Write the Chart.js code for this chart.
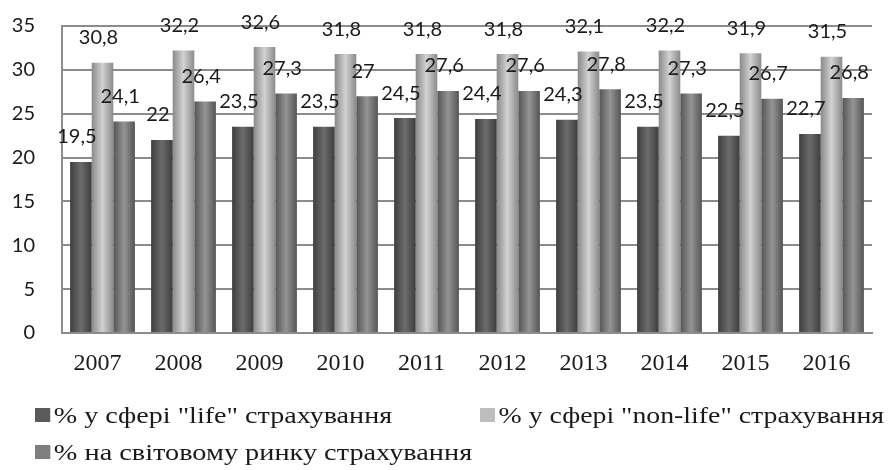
<!DOCTYPE html>
<html>
<head>
<meta charset="utf-8">
<script src="https://cdn.jsdelivr.net/npm/chart.js@4/dist/chart.umd.min.js"></script>
<style>
  html, body { margin: 0; padding: 0; background: #ffffff; }
  #wrap { position: relative; width: 891px; height: 470px; }
  canvas { position: absolute; left: 0; top: 0; }
  .leg { position: absolute; font-family: "Times New Roman", "Liberation Serif", serif; font-size: 24px; color: #1a1a1a; white-space: nowrap; line-height: 26px; transform-origin: 0 50%; }
  .leg i { display: inline-block; width: 13px; height: 14px; margin-right: 3px; vertical-align: 1px; }
</style>
</head>
<body>
<div id="wrap">
  <canvas id="c" width="891" height="470"></canvas>
  <div id="legend"></div>
</div>
<script>
// ---- data ----
const categories = ["2007", "2008", "2009", "2010", "2011", "2012", "2013", "2014", "2015", "2016"];
const lifeValues    = [19.5, 22, 23.5, 23.5, 24.5, 24.4, 24.3, 23.5, 22.5, 22.7];
const nonLifeValues = [30.8, 32.2, 32.6, 31.8, 31.8, 31.8, 32.1, 32.2, 31.9, 31.5];
const worldValues   = [24.1, 26.4, 27.3, 27, 27.6, 27.6, 27.8, 27.3, 26.7, 26.8];
const seriesNames = [
  '% у сфері "life" страхування',
  '% у сфері "non-life" страхування',
  '% на світовому ринку страхування'
];
const yTicks = [0, 5, 10, 15, 20, 25, 30, 35];

// ---- styles ----
const CAT_PCT = 0.8;
const shades = [
  ['#3e3e3e', '#6c6c6c', '#3e3e3e'],
  ['#8a8a8a', '#d2d2d2', '#8a8a8a'],
  ['#555555', '#949494', '#555555']
];
const legendSwatch = ['#5a5a5a', '#bdbdbd', '#7e7e7e'];

function barFill(c) {
  const st = shades[c.datasetIndex];
  if (c.type !== 'data') return st[1];
  const chart = c.chart;
  const xs = chart.scales.x;
  if (!xs || !xs.width) return st[1];
  const center = xs.getPixelForValue(c.dataIndex);
  const cw = (xs.right - xs.left) / categories.length;
  const gw = cw * CAT_PCT;
  const bw = gw / 3;
  const left = center - gw / 2 + c.datasetIndex * bw;
  const g = chart.ctx.createLinearGradient(left, 0, left + bw, 0);
  g.addColorStop(0, st[0]);
  g.addColorStop(0.5, st[1]);
  g.addColorStop(1, st[2]);
  return g;
}

const valueLabels = {
  id: 'valueLabels',
  afterDatasetsDraw(chart) {
    const ctx = chart.ctx;
    ctx.save();
    ctx.font = '20px Lato, "Open Sans", sans-serif';
    ctx.fillStyle = '#1a1a1a';
    ctx.textAlign = 'center';
    ctx.textBaseline = 'middle';
    chart.data.datasets.forEach((ds, di) => {
      const meta = chart.getDatasetMeta(di);
      meta.data.forEach((el, i) => {
        const txt = String(ds.data[i]).replace('.', ',');
        ctx.fillText(txt, el.x - 4, el.y - 25);
      });
    });
    ctx.restore();
  }
};

const gridColor = '#8c8c8c';

new Chart(document.getElementById('c'), {
  type: 'bar',
  data: {
    labels: categories,
    datasets: [
      { label: seriesNames[0], data: lifeValues, backgroundColor: barFill },
      { label: seriesNames[1], data: nonLifeValues, backgroundColor: barFill },
      { label: seriesNames[2], data: worldValues, backgroundColor: barFill }
    ]
  },
  options: {
    responsive: false,
    animation: false,
    devicePixelRatio: 1,
    datasets: { bar: { categoryPercentage: CAT_PCT, barPercentage: 1.0, borderWidth: 0 } },
    layout: { padding: { top: 26, right: 19, bottom: 77, left: 0 } },
    plugins: {
      legend: { display: false },
      tooltip: { enabled: false }
    },
    scales: {
      x: {
        grid: { display: false, drawTicks: false },
        border: { display: true, color: gridColor, width: 2 },
        ticks: {
          color: '#1a1a1a',
          font: { family: '"Liberation Serif", "Times New Roman", serif', size: 24 },
          padding: 16,
          labelOffset: -5,
          maxRotation: 0
        },
        afterFit(s) { s.height = 60; }
      },
      y: {
        min: 0,
        max: 35,
        afterBuildTicks(s) { s.ticks = yTicks.map(v => ({ value: v })); },
        grid: { color: gridColor, lineWidth: 2, drawTicks: true, tickLength: 24, tickColor: 'rgba(0,0,0,0)' },
        border: { display: true, color: gridColor, width: 2 },
        ticks: {
          color: '#1a1a1a',
          font: { family: 'Lato, "Open Sans", sans-serif', size: 20 },
          padding: 3
        },
        afterFit(s) { s.width = 62; }
      }
    }
  },
  plugins: [valueLabels]
});

// HTML legend (left edge and right end of each entry, as in the reference layout)
const legendPos = [
  { left: 35, top: 402, right: 392 },
  { left: 480, top: 402, right: 884 },
  { left: 35, top: 439, right: 472 }
];
const legendEl = document.getElementById('legend');
seriesNames.forEach((name, i) => {
  const d = document.createElement('div');
  d.className = 'leg';
  d.style.left = legendPos[i].left + 'px';
  d.style.top = legendPos[i].top + 'px';
  const sw = document.createElement('i');
  sw.style.background = legendSwatch[i];
  d.appendChild(sw);
  d.appendChild(document.createTextNode(name));
  legendEl.appendChild(d);
  const w = d.getBoundingClientRect().width;
  const k = (legendPos[i].right - legendPos[i].left) / w;
  d.style.transform = 'scaleX(' + k.toFixed(3) + ')';
});
</script>
</body>
</html>
